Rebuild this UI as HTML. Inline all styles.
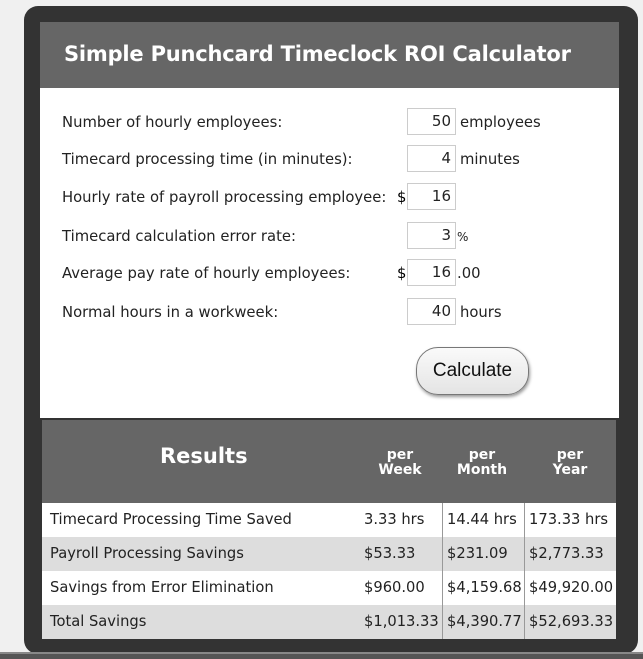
<!DOCTYPE html>
<html><head><meta charset="utf-8"><style>
*{box-sizing:border-box;margin:0;padding:0}
body{width:643px;height:659px;background:#f0f0f0;font-family:"DejaVu Sans","Liberation Sans",sans-serif;position:relative;overflow:hidden}
.frame{position:absolute;left:24px;top:6px;width:614px;height:648px;background:#333;border-radius:14px}
.bottomline{position:absolute;left:0;top:652px;width:643px;height:7px;background:#555;border-top:2px solid #888}
.panel{position:absolute;left:40px;top:22px;width:579px;height:619px;background:#fff}
.hdr{position:absolute;left:0;top:0;width:579px;height:66px;background:#666;color:#fff;font-size:21px;font-weight:bold;padding:20px 0 0 24px;letter-spacing:-0.2px}
.row{position:absolute;left:22px;font-size:14.8px;color:#222;height:26px;line-height:26px}
.inp{position:absolute;left:367px;width:49px;height:27px;border:1px solid #ccc;font-size:15px;text-align:right;padding-right:4px;line-height:25px;color:#222;background:#fff}
.unit{position:absolute;left:420px;font-size:14.8px;color:#222;line-height:26px}
.dollar{position:absolute;left:357px;font-size:14.8px;line-height:26px}
.btn{position:absolute;left:376px;top:325px;width:113px;height:48px;border:1px solid #777;border-radius:22px;background:linear-gradient(#fafafa,#e4e4e4);box-shadow:1px 2px 3px #999;font-family:"Liberation Sans",sans-serif;font-size:19px;text-align:center;line-height:46px;color:#111}
.res{position:absolute;left:0;top:396px;width:579px;height:223px;background:#333}
.rh{position:absolute;left:2px;top:2px;width:574px;height:83px;background:#666;color:#fff}
.rt{position:absolute;left:118px;top:24px;font-size:21px;font-weight:bold}
.ph{position:absolute;top:28px;width:80px;text-align:center;font-size:14px;font-weight:bold;line-height:15px}
.tr{position:absolute;left:2px;width:574px;height:34px;font-size:14.7px;color:#222;line-height:34px}
.c{position:absolute;top:0;height:34px;padding-left:4px;white-space:nowrap}
.c.l{left:4px}
.c.w{left:318px}
.c.m{left:400px;border-left:1px solid #999}
.c.y{left:482px;border-left:1px solid #999}
</style></head><body>
<div class="frame"></div>
<div class="bottomline"></div>
<div class="panel">
<div class="hdr">Simple Punchcard Timeclock ROI Calculator</div>

<div class="row" style="top:88px">Number of hourly employees:</div>
<div class="inp" style="top:86px">50</div>
<div class="unit" style="top:88px">employees</div>

<div class="row" style="top:125px">Timecard processing time (in minutes):</div>
<div class="inp" style="top:123px">4</div>
<div class="unit" style="top:125px">minutes</div>

<div class="row" style="top:163px">Hourly rate of payroll processing employee:</div>
<div class="dollar" style="top:163px">$</div>
<div class="inp" style="top:161px">16</div>

<div class="row" style="top:202px">Timecard calculation error rate:</div>
<div class="inp" style="top:200px">3</div>
<div class="unit" style="top:202px;left:417px;font-size:12px">%</div>

<div class="row" style="top:239px">Average pay rate of hourly employees:</div>
<div class="dollar" style="top:239px">$</div>
<div class="inp" style="top:237px">16</div>
<div class="unit" style="top:239px;left:417px">.00</div>

<div class="row" style="top:278px">Normal hours in a workweek:</div>
<div class="inp" style="top:276px">40</div>
<div class="unit" style="top:278px">hours</div>

<div class="btn">Calculate</div>

<div class="res">
<div class="rh">
<div class="rt">Results</div>
<div class="ph" style="left:318px">per<br>Week</div>
<div class="ph" style="left:400px">per<br>Month</div>
<div class="ph" style="left:488px">per<br>Year</div>
</div>
<div class="tr" style="top:85px;background:#fff"><span class="c l">Timecard Processing Time Saved</span><span class="c w">3.33 hrs</span><span class="c m">14.44 hrs</span><span class="c y">173.33 hrs</span></div>
<div class="tr" style="top:119px;background:#ddd"><span class="c l">Payroll Processing Savings</span><span class="c w">$53.33</span><span class="c m">$231.09</span><span class="c y">$2,773.33</span></div>
<div class="tr" style="top:153px;background:#fff"><span class="c l">Savings from Error Elimination</span><span class="c w">$960.00</span><span class="c m">$4,159.68</span><span class="c y">$49,920.00</span></div>
<div class="tr" style="top:187px;background:#ddd"><span class="c l">Total Savings</span><span class="c w">$1,013.33</span><span class="c m">$4,390.77</span><span class="c y">$52,693.33</span></div>
</div>
</div>
</body></html>
